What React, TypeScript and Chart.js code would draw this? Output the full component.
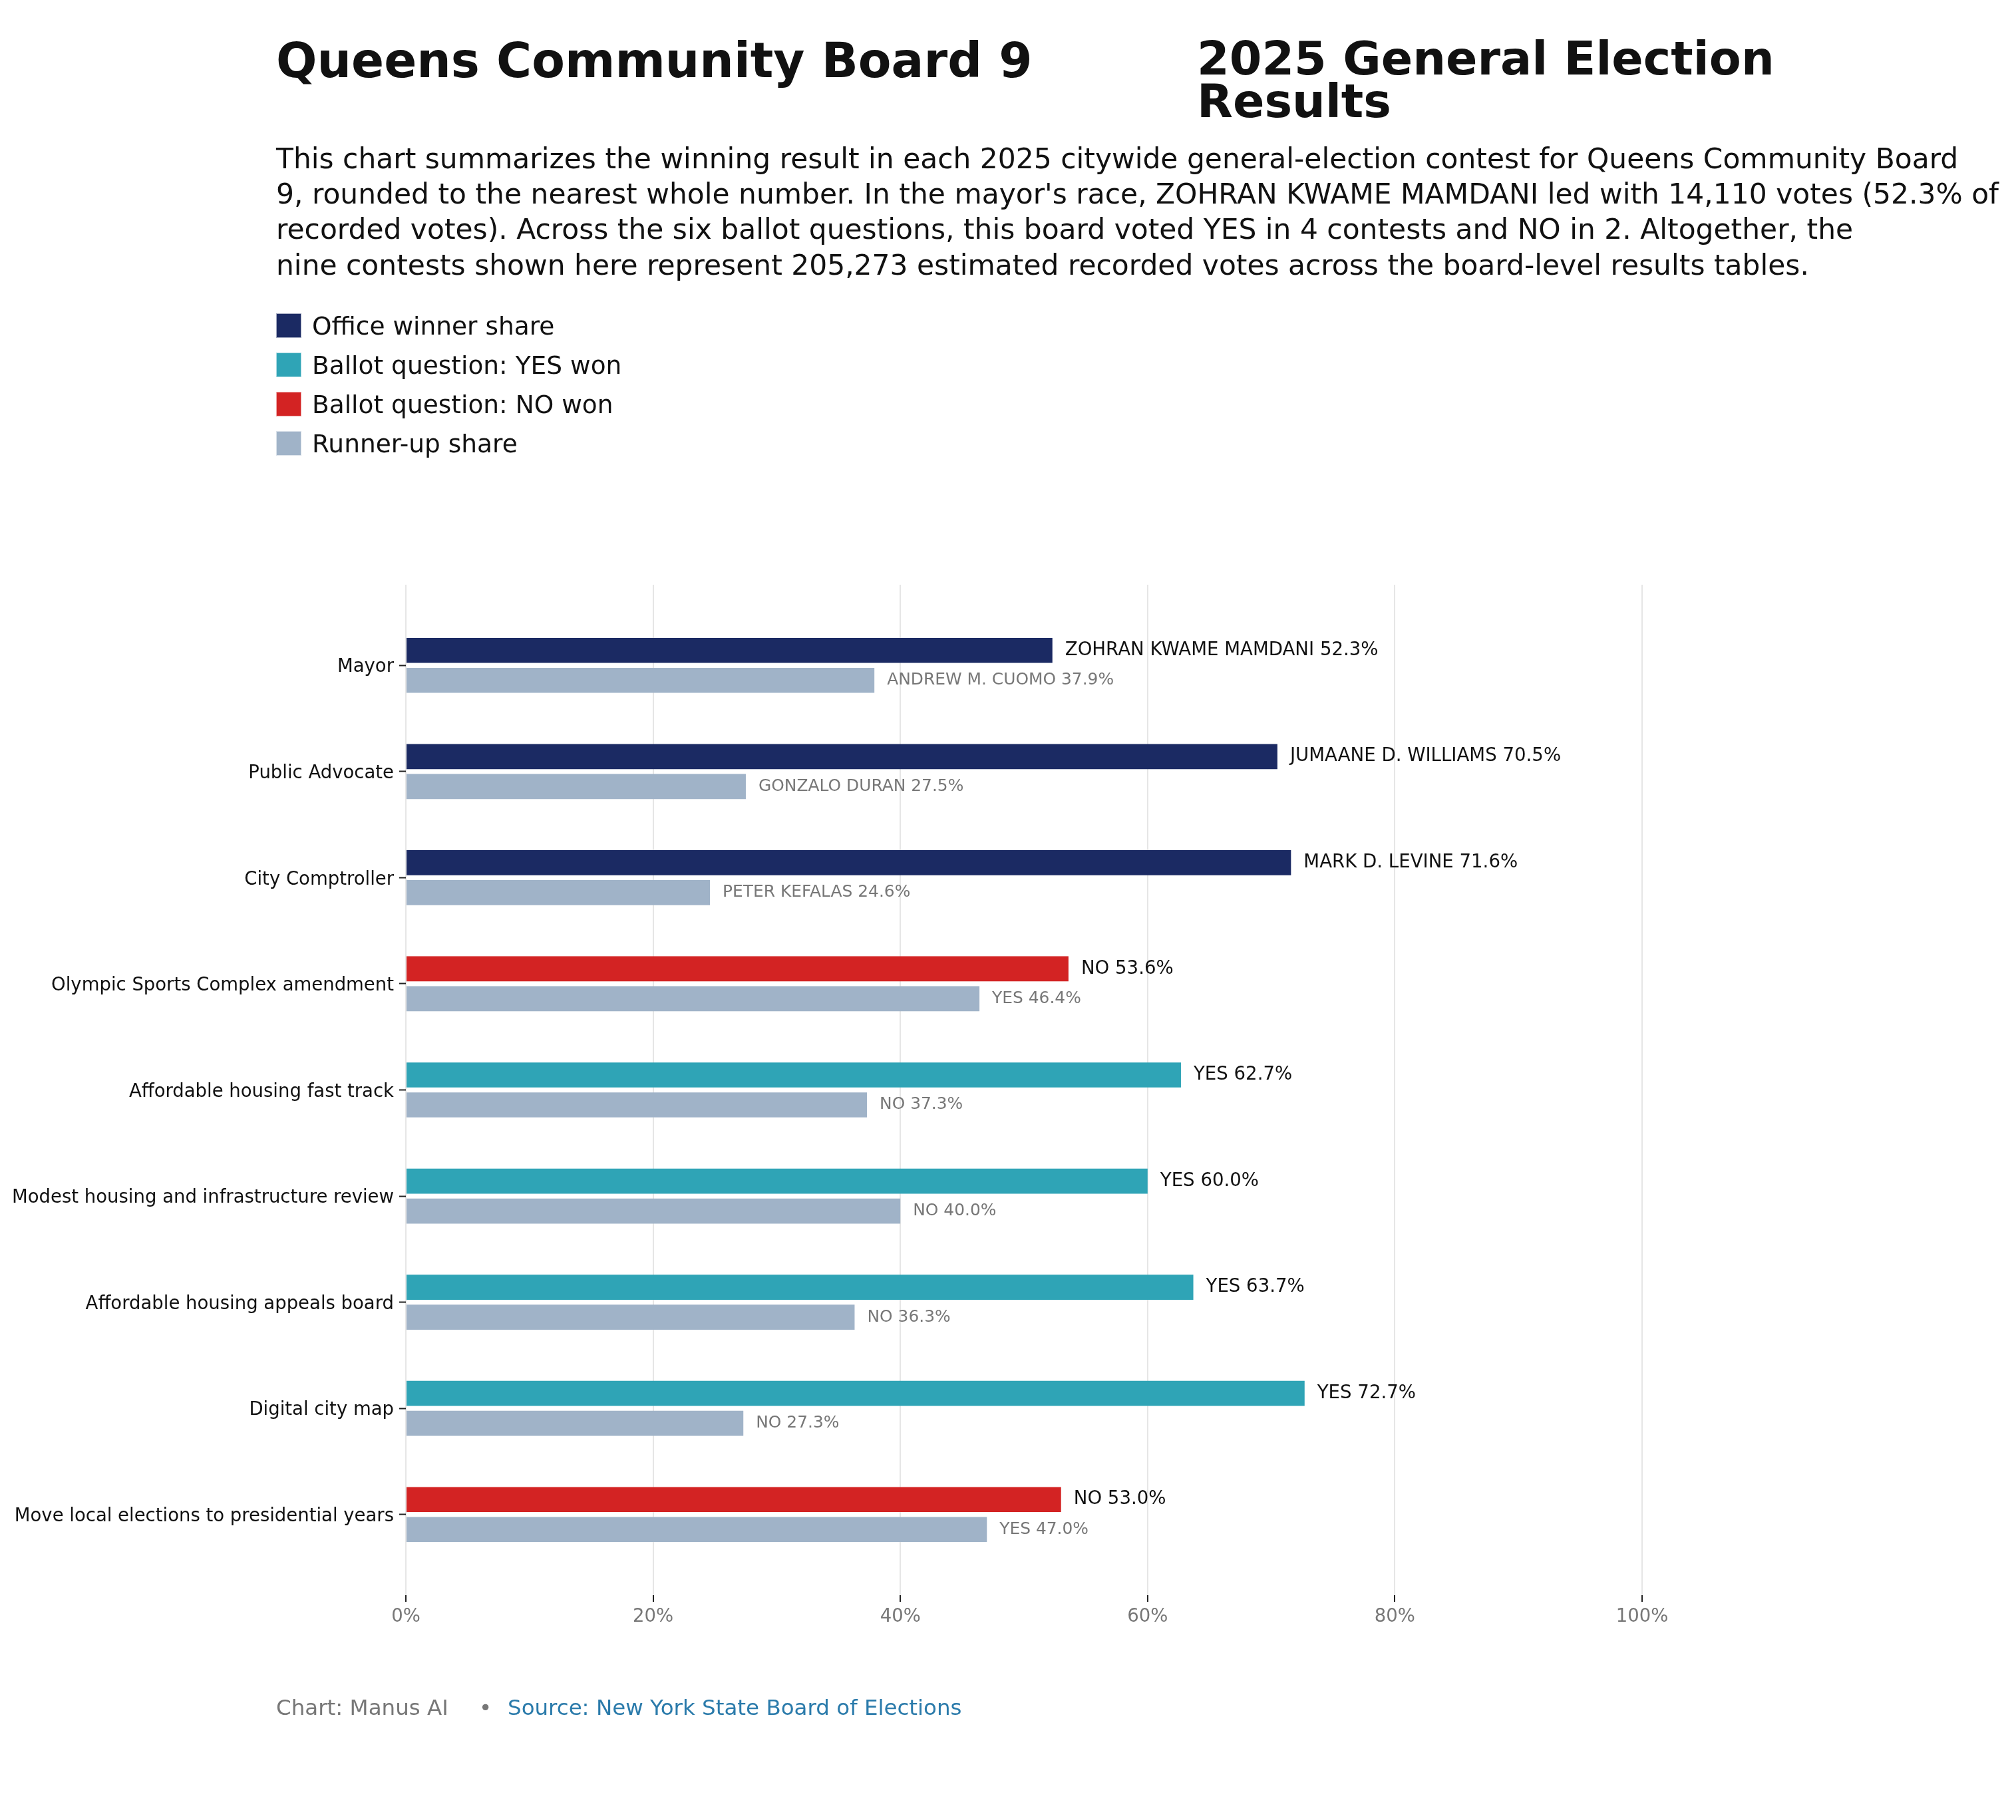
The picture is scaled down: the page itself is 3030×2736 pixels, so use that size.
import React, { useEffect, useRef } from 'react';
import { Chart, registerables } from 'chart.js';

Chart.register(...registerables);

const contests = [
  'Mayor',
  'Public Advocate',
  'City Comptroller',
  'Olympic Sports Complex amendment',
  'Affordable housing fast track',
  'Modest housing and infrastructure review',
  'Affordable housing appeals board',
  'Digital city map',
  'Move local elections to presidential years',
];
const winnerKinds = ['office', 'office', 'office', 'no', 'yes', 'yes', 'yes', 'yes', 'no'];
const winnerNames = ['ZOHRAN KWAME MAMDANI', 'JUMAANE D. WILLIAMS', 'MARK D. LEVINE', 'NO', 'YES', 'YES', 'YES', 'YES', 'NO'];
const winnerShares = [52.3, 70.5, 71.6, 53.6, 62.7, 60.0, 63.7, 72.7, 53.0];
const runnerNames = ['ANDREW M. CUOMO', 'GONZALO DURAN', 'PETER KEFALAS', 'YES', 'NO', 'NO', 'NO', 'NO', 'YES'];
const runnerShares = [37.9, 27.5, 24.6, 46.4, 37.3, 40.0, 36.3, 27.3, 47.0];
const xTicks = [0, 20, 40, 60, 80, 100];

const legendLabels = ['Office winner share', 'Ballot question: YES won', 'Ballot question: NO won', 'Runner-up share'];

const descLines = [
  'This chart summarizes the winning result in each 2025 citywide general-election contest for Queens Community Board',
  "9, rounded to the nearest whole number. In the mayor's race, ZOHRAN KWAME MAMDANI led with 14,110 votes (52.3% of",
  'recorded votes). Across the six ballot questions, this board voted YES in 4 contests and NO in 2. Altogether, the',
  'nine contests shown here represent 205,273 estimated recorded votes across the board-level results tables.',
];

const COLORS: Record<string, string> = {
  office: '#1b2a63',
  yes: '#2fa4b6',
  no: '#d32323',
  runner: '#a0b3c8',
};
const legendColors = [COLORS.office, COLORS.yes, COLORS.no, COLORS.runner];

const FONT = '"DejaVu Sans", sans-serif';
const W = 3030;
const H = 2736;

// plot box in page pixels
const PLOT_LEFT = 610;
const PLOT_RIGHT = 2468;
const PLOT_TOP = 879;
const PLOT_BOTTOM = 2398;

// text after each bar
const barLabels = {
  id: 'barLabels',
  afterDatasetsDraw(chart: any) {
    const ctx = chart.ctx;
    ctx.save();
    ctx.textBaseline = 'middle';
    ctx.textAlign = 'left';
    chart.getDatasetMeta(0).data.forEach((bar: any, i: number) => {
      ctx.font = `27.6px ${FONT}`;
      ctx.fillStyle = '#111';
      ctx.fillText(`${winnerNames[i]} ${winnerShares[i].toFixed(1)}%`, bar.x + 19, bar.y);
    });
    chart.getDatasetMeta(1).data.forEach((bar: any, i: number) => {
      ctx.font = `24.9px ${FONT}`;
      ctx.fillStyle = '#777';
      ctx.fillText(`${runnerNames[i]} ${runnerShares[i].toFixed(1)}%`, bar.x + 19, bar.y);
    });
    ctx.restore();
  },
};

const ResultsChart: React.FC = () => {
  const canvasRef = useRef<HTMLCanvasElement | null>(null);
  const chartRef = useRef<Chart | null>(null);

  useEffect(() => {
    if (!canvasRef.current) return;
    chartRef.current = new Chart(canvasRef.current, {
      type: 'bar',
      data: {
        datasets: [
          {
            label: 'Winner',
            data: winnerShares.map((v, i) => ({ x: v, y: i })),
            backgroundColor: winnerKinds.map((k) => COLORS[k]),
            borderWidth: 0,
            categoryPercentage: 0.564,
            barPercentage: 0.838,
          },
          {
            label: 'Runner-up',
            data: runnerShares.map((v, i) => ({ x: v, y: i })),
            backgroundColor: COLORS.runner,
            borderWidth: 0,
            categoryPercentage: 0.564,
            barPercentage: 0.838,
          },
        ],
      },
      options: {
        indexAxis: 'y',
        animation: false,
        responsive: false,
        maintainAspectRatio: false,
        layout: { padding: { left: 0, top: PLOT_TOP, right: W - PLOT_RIGHT, bottom: H - PLOT_BOTTOM - 60 } },
        plugins: {
          legend: { display: false },
          tooltip: { enabled: false },
          title: { display: false },
        },
        scales: {
          x: {
            type: 'linear',
            min: 0,
            max: 100,
            border: { display: false },
            grid: {
              color: '#e6e6e6',
              lineWidth: 2,
              tickColor: '#222',
              tickWidth: 2,
              tickLength: 10,
            },
            afterBuildTicks: (scale: any) => {
              scale.ticks = xTicks.map((v) => ({ value: v }));
            },
            afterFit: (scale: any) => {
              scale.height = 60;
            },
            ticks: {
              color: '#777',
              padding: 6,
              font: { family: FONT, size: 27.5 },
              callback: (v: any) => `${v}%`,
            },
          },
          y: {
            type: 'linear',
            reverse: true,
            offset: false,
            min: -0.76,
            max: 8.76,
            border: { display: false },
            grid: {
              offset: false,
              drawOnChartArea: false,
              drawTicks: true,
              tickColor: '#222',
              tickWidth: 2,
              tickLength: 10,
            },
            afterBuildTicks: (scale: any) => {
              scale.ticks = contests.map((_, i) => ({ value: i }));
            },
            afterFit: (scale: any) => {
              scale.width = PLOT_LEFT;
            },
            ticks: {
              color: '#111',
              padding: 8,
              labelOffset: 3,
              autoSkip: false,
              font: { family: FONT, size: 27.5 },
              callback: (v: any) => contests[v as number] ?? '',
            },
          },
        },
      },
      plugins: [barLabels],
    });

    return () => {
      if (chartRef.current) {
        chartRef.current.destroy();
        chartRef.current = null;
      }
    };
  }, []);

  return (
    <canvas
      ref={canvasRef}
      width={W}
      height={H}
      style={{ position: 'absolute', left: 0, top: 0, width: W, height: H }}
    />
  );
};

const App: React.FC = () => {
  return (
    <div
      style={{
        position: 'absolute',
        left: 0,
        top: 0,
        width: W,
        height: H,
        background: '#fff',
        overflow: 'hidden',
        fontFamily: FONT,
        color: '#111',
      }}
    >
      <ResultsChart />
      <div style={{ position: 'absolute', left: 415, top: 59, fontSize: 72.4, fontWeight: 'bold', lineHeight: '64px', whiteSpace: 'nowrap' }}>
        Queens Community Board 9
      </div>
      <div style={{ position: 'absolute', left: 1799, top: 56, fontSize: 70, fontWeight: 'bold', lineHeight: '64px', whiteSpace: 'nowrap' }}>
        2025 General Election
        <br />
        Results
      </div>
      <div style={{ position: 'absolute', left: 415, top: 211.5, fontSize: 42.4, lineHeight: '53.4px', whiteSpace: 'pre' }}>
        {descLines.map((l, i) => (
          <div key={i}>{l}</div>
        ))}
      </div>
      {legendLabels.map((label, i) => (
        <div
          key={label}
          style={{
            position: 'absolute',
            left: 415,
            top: 471 + i * 59,
            height: 37,
            display: 'flex',
            alignItems: 'center',
            whiteSpace: 'nowrap',
          }}
        >
          <span
            style={{
              display: 'inline-block',
              width: 38,
              height: 37,
              background: legendColors[i],
              boxSizing: 'border-box',
              border: '1px solid rgba(255,255,255,0.6)',
            }}
          />
          <span style={{ marginLeft: 16, fontSize: 37.5 }}>{label}</span>
        </div>
      ))}
      <div style={{ position: 'absolute', left: 415, top: 2548, fontSize: 32.5, color: '#777', whiteSpace: 'nowrap' }}>
        Chart: Manus AI
      </div>
      <div style={{ position: 'absolute', left: 720, top: 2548, fontSize: 32.5, color: '#777' }}>•</div>
      <div style={{ position: 'absolute', left: 763, top: 2548, fontSize: 32.5, color: '#2b7bab', whiteSpace: 'nowrap' }}>
        Source: New York State Board of Elections
      </div>
    </div>
  );
};

export default App;
